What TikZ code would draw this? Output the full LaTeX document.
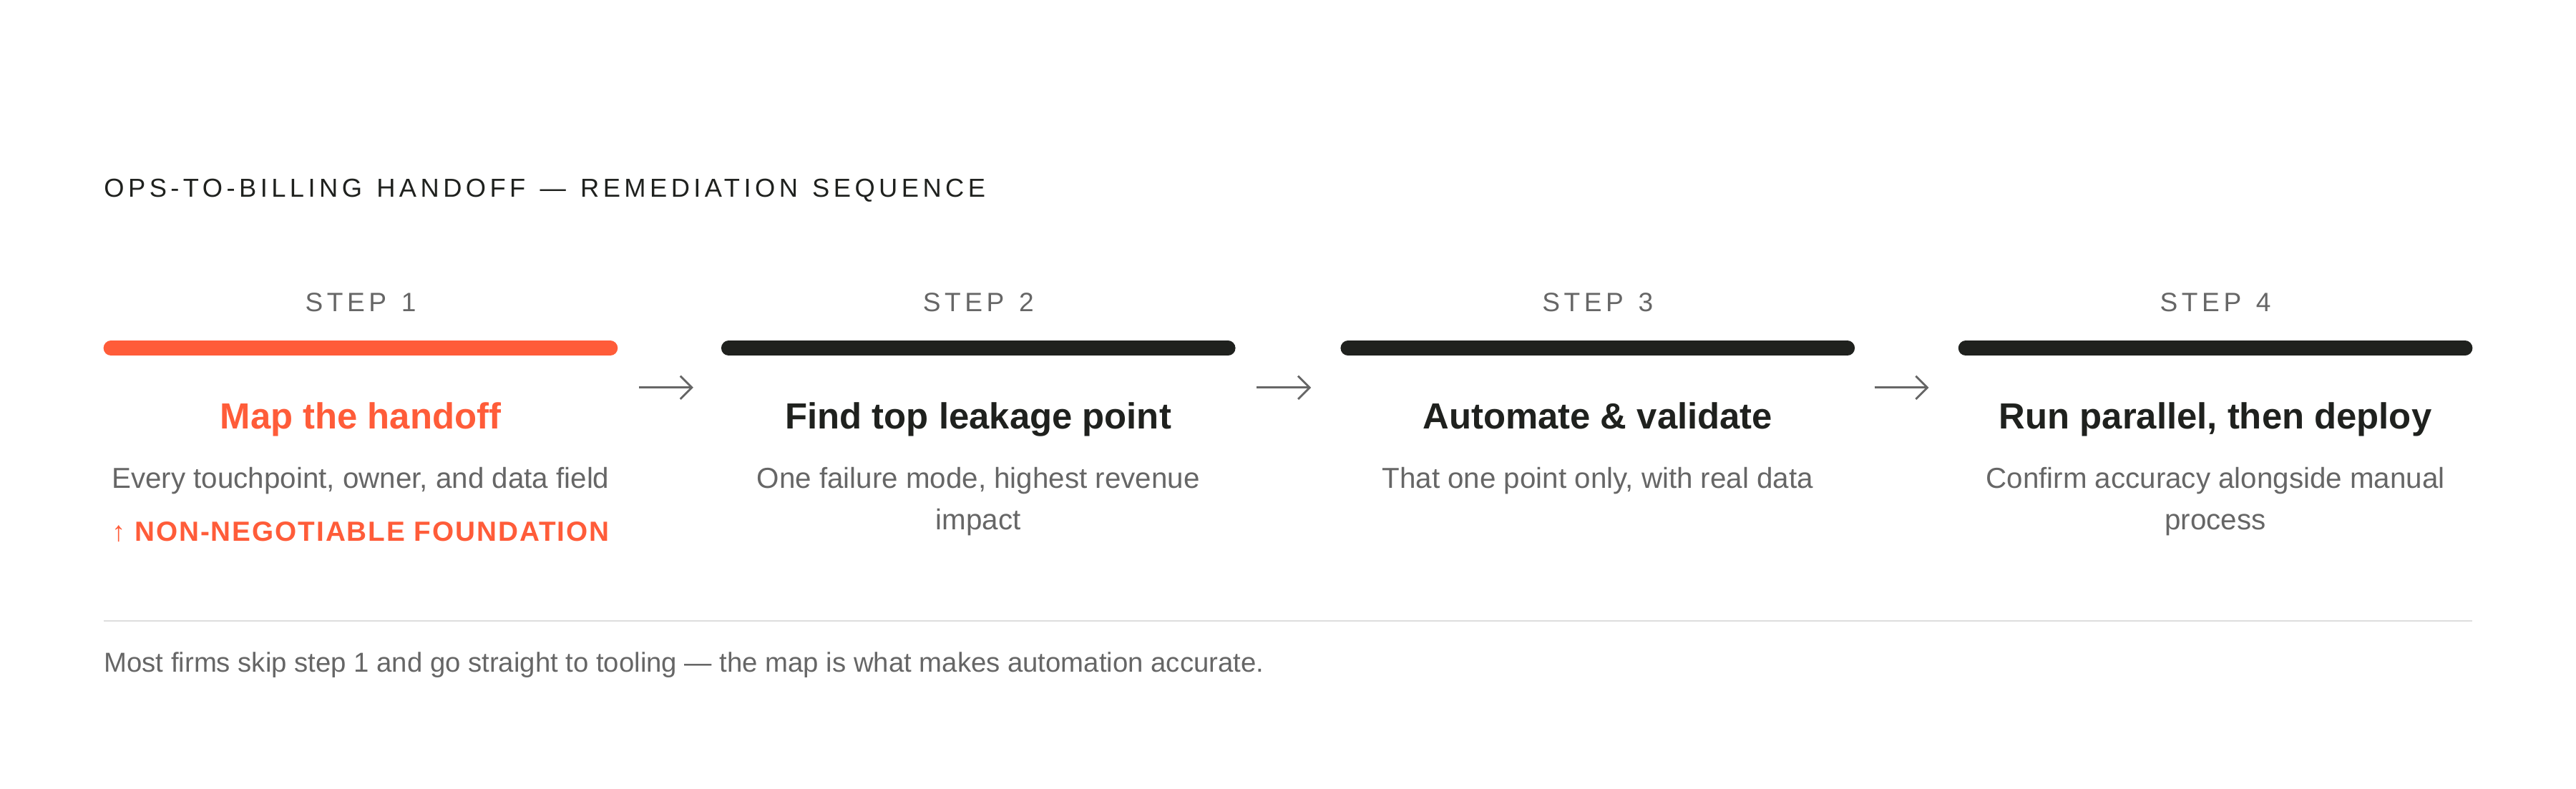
\documentclass[tikz,border=0pt]{standalone}
\usepackage{fontspec}
\setmainfont{Liberation Sans}
\newfontfamily\spacedfont[LetterSpace=15,WordSpace=1.3]{Liberation Sans}
\newfontfamily\capsfont[LetterSpace=5]{Liberation Sans}
\usetikzlibrary{arrows.meta, positioning}
\definecolor{Ember}{HTML}{FF5C39}
\definecolor{Ink}{HTML}{1F211E}
\definecolor{Slate}{HTML}{666666}
\definecolor{Rule}{HTML}{DDDDDD}

\begin{document}
\begin{tikzpicture}[
    x=0.02cm, y=-0.02cm,
    steplabel/.style={font=\spacedfont\fontsize{9.2}{11}\selectfont, text=Slate, inner sep=0pt},
    heading/.style={font=\bfseries\fontsize{12.6}{15}\selectfont, text=Ink, inner sep=0pt, anchor=base},
    detail/.style={font=\fontsize{10}{14.5}\selectfont, text=Slate, align=center, inner sep=0pt},
    bar/.style={line width=0.18cm, line cap=round},
    flow/.style={-{Straight Barb[length=4pt, width=8pt]}, draw=Slate, line width=0.7pt}
]
    \useasboundingbox[fill=white] (0,0) rectangle (1568,480);

    % Title
    \node[anchor=west, font=\spacedfont\fontsize{9}{11}\selectfont, text=Ink, inner sep=0pt]
        (title) at (63,116) {OPS-TO-BILLING HANDOFF — REMEDIATION SEQUENCE};

    % Steps
    \foreach \i/\cx/\col in {1/219.5/Ember, 2/595.5/Ink, 3/972.5/Ink, 4/1348.5/Ink} {
        \node[steplabel] (lab\i) at (\cx,184) {STEP \i};
        \draw[bar, \col] (\cx-152,212) -- (\cx+152,212);
    }
    \node[heading, text=Ember] (head1) at (219.5,261) {Map the handoff};
    \node[heading] (head2) at (595.5,261) {Find top leakage point};
    \node[heading] (head3) at (972.5,261) {Automate \& validate};
    \node[heading] (head4) at (1348.5,261) {Run parallel, then deploy};

    \node[detail, anchor=north] (desc1) at (219.5,284) {Every touchpoint, owner, and data field};
    \node[detail, anchor=north] (desc2) at (595.5,284) {One failure mode, highest revenue\\impact};
    \node[detail, anchor=north] (desc3) at (972.5,284) {That one point only, with real data};
    \node[detail, anchor=north] (desc4) at (1348.5,284) {Confirm accuracy alongside manual\\process};

    \node[font=\capsfont\bfseries\fontsize{9.6}{12}\selectfont, text=Ember, inner sep=0pt]
        (found) at (219.5,324) {↑ NON-NEGOTIABLE FOUNDATION};

    % Arrows between steps
    \foreach \ax/\n in {389/1, 765/2, 1141/3} {
        \coordinate (from\n) at (\ax,236);
        \coordinate (to\n) at (\ax+33,236);
        \draw[flow] (from\n) -- (to\n);
    }

    % Divider and footnote
    \coordinate (ruleL) at (63,378);
    \coordinate (ruleR) at (1505,378);
    \draw[Rule, line width=0.6pt] (ruleL) -- (ruleR);
    \node[anchor=west, font=\fontsize{9.5}{11}\selectfont, text=Slate, inner sep=0pt]
        (note) at (63,405) {Most firms skip step 1 and go straight to tooling — the map is what makes automation accurate.};
\end{tikzpicture}
\end{document}
